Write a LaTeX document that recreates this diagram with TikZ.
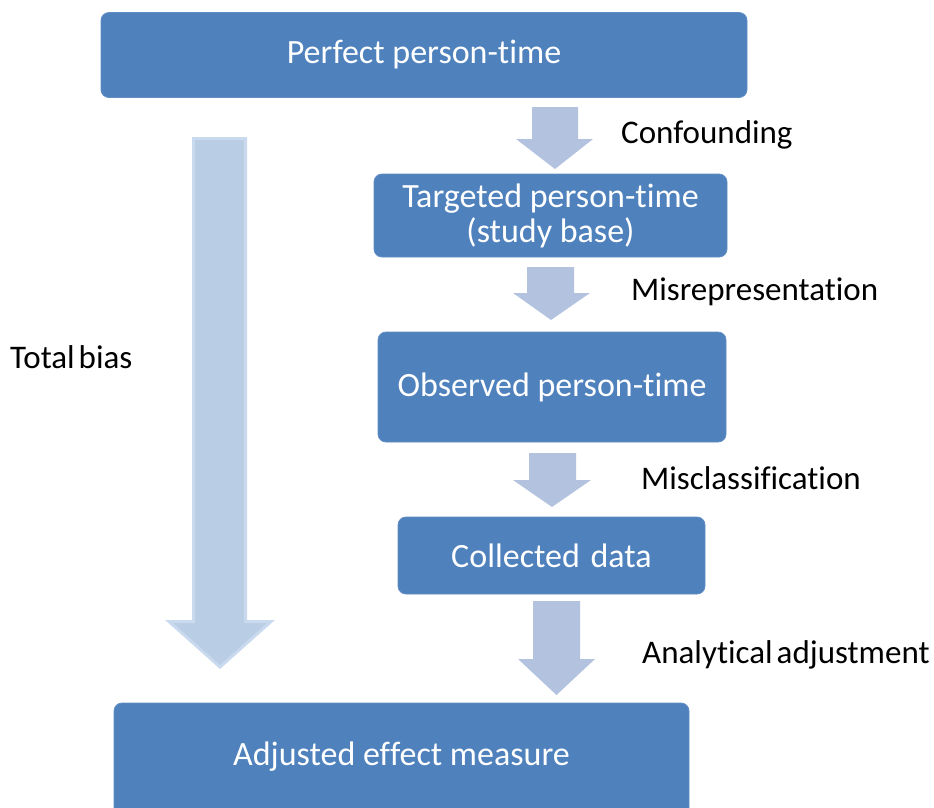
\documentclass[tikz,border=0pt]{standalone}
\usepackage{fontspec}
\setmainfont[Ligatures={NoCommon,NoContextual}]{Carlito}
\newcommand\nl{\kern0pt }
\definecolor{boxblue}{HTML}{4F81BD}
\definecolor{arrowblue}{HTML}{B3C3DF}
\definecolor{bigfill}{HTML}{B9CDE5}
\definecolor{bigedge}{HTML}{C9D9EE}
\begin{document}
\begin{tikzpicture}[x=1pt,y=-1pt,
  stepbox/.style={fill=boxblue,draw=boxblue!90!white,line width=0.8pt,rounded corners=8pt,
    text=white,font=\fontsize{34}{40}\selectfont,align=center,inner sep=0pt},
  lab/.style={anchor=west,text=black,font=\fontsize{33}{38}\selectfont,inner sep=0pt},
  smallarrow/.style={fill=arrowblue,draw=none},
  bigarrow/.style={fill=bigfill,draw=bigedge,line width=3pt,line join=miter}]
\useasboundingbox (0,0) rectangle (934,807);
\clip (0,0) rectangle (934,807);
% boxes
\node[stepbox,minimum width=646pt,minimum height=85pt] (perfect) at (424,55) {Perfect person-t\nl ime};
\node[stepbox,minimum width=353pt,minimum height=83pt] (target) at (550.5,215.5) {Targeted person-t\nl ime\\[-5pt](study base)};
\node[stepbox,minimum width=348pt,minimum height=110pt] (observed) at (552,387) {Observed person-t\nl ime};
\node[stepbox,minimum width=307pt,minimum height=77pt] (collected) at (551.5,555.5) {Collected\hspace{3pt} data};
\node[stepbox,minimum width=575pt,minimum height=127pt] (adjusted) at (401.5,766.5) {};
\node[text=white,font=\fontsize{34}{40}\selectfont,inner sep=0pt] (adjtext) at (401.5,757) {Adjusted ef\nl fect measure};
% small block arrows
\path[smallarrow] (532,107) -- (578,107) -- (578,139) -- (593,139) -- (555,169) -- (516,139) -- (532,139) -- cycle;
\path[smallarrow] (527,267) -- (574,267) -- (574,293) -- (590,293) -- (551,320) -- (513,293) -- (527,293) -- cycle;
\path[smallarrow] (529,453) -- (576,453) -- (576,480) -- (591,480) -- (552,507) -- (513,480) -- (529,480) -- cycle;
\path[smallarrow] (533,601) -- (580,601) -- (580,659) -- (595,659) -- (556.5,695) -- (518,659) -- (533,659) -- cycle;
% big arrow
\path[bigarrow] (193.5,138.5) -- (245.5,138.5) -- (245.5,621.5) -- (271,621.5) -- (220,667) -- (169,621.5) -- (193.5,621.5) -- cycle;
% labels
\node[lab] (conf) at (621,135) {Confounding};
\node[lab] (misrep) at (631,292) {Misrepresentation};
\node[lab] (total) at (10,357) {Total\hspace{4pt}bias};
\node[lab] (miscl) at (641,478) {Misclassif\nl ication};
\node[lab] (anadj) at (642,655) {Analytical\hspace{4pt}adjustment};
\end{tikzpicture}
\end{document}
